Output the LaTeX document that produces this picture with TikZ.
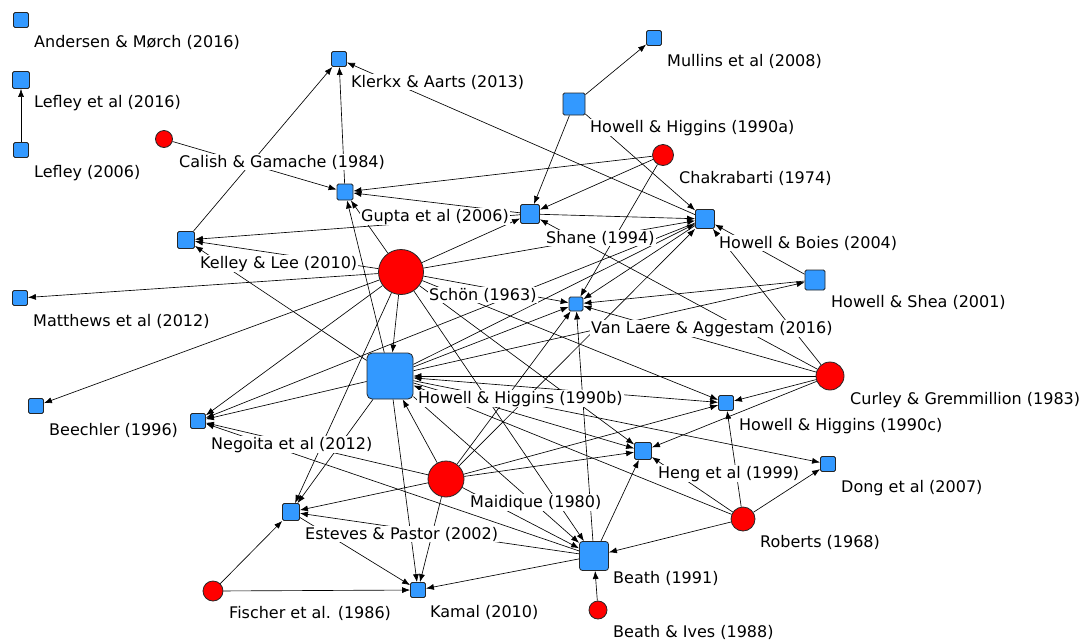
\documentclass[tikz,border=0pt]{standalone}
\usepackage{fontspec}
\setmainfont{DejaVu Sans}
\usetikzlibrary{arrows.meta}
\definecolor{sqblue}{RGB}{51,153,255}
\definecolor{ndred}{RGB}{255,0,0}
\pgfdeclarelayer{edges}
\pgfsetlayers{edges,main}
\begin{document}
\begin{tikzpicture}[x=1pt,y=-1pt,
  sq/.style={draw=black!85, fill=sqblue, rounded corners=1.5pt, minimum size=#1, inner sep=0pt, line width=0.8pt},
  rc/.style={draw=black!85, fill=ndred, circle, minimum size=#1, inner sep=0pt, line width=0.8pt},
  lab/.style={anchor=base west, fill=white, inner sep=1pt, font=\fontsize{16}{19}\selectfont},
  edg/.style={-{Latex[length=8pt,width=6pt]}, line width=0.65pt},
  edgb/.style={{Latex[length=8pt,width=6pt]}-{Latex[length=8pt,width=6pt]}, line width=0.65pt}]
\useasboundingbox (0,0) rectangle (1089,643);
% nodes
\node[sq=15pt] (and) at (21,20) {};
\node[sq=17pt] (lefA) at (21,80) {};
\node[sq=15pt] (lefB) at (21,150) {};
\node[rc=17pt] (cal) at (164,139) {};
\node[sq=15pt] (kle) at (339,59) {};
\node[sq=15pt] (mul) at (654,38) {};
\node[sq=22pt] (hha) at (574,104) {};
\node[rc=21pt] (cha) at (663,155) {};
\node[sq=16pt] (gup) at (345,192) {};
\node[sq=19pt] (sha) at (530,214) {};
\node[sq=19pt] (hbo) at (705,219) {};
\node[sq=17pt] (kel) at (186,240) {};
\node[rc=45pt] (sch) at (401,272) {};
\node[sq=15pt] (mat) at (20,298) {};
\node[sq=20pt] (hsh) at (815,280) {};
\node[sq=14pt] (vla) at (576,304) {};
\node[sq=46pt, rounded corners=5pt] (hhb) at (390,376) {};
\node[rc=28pt] (cur) at (830,376) {};
\node[sq=15pt] (bee) at (36,406) {};
\node[sq=15pt] (neg) at (198,421) {};
\node[sq=15pt] (hhc) at (726,403) {};
\node[sq=17pt] (hen) at (643,451) {};
\node[rc=36pt] (mai) at (446,479) {};
\node[sq=15pt] (don) at (828,464) {};
\node[sq=17pt] (est) at (291,512) {};
\node[rc=24pt] (rob) at (743,519) {};
\node[sq=29pt, rounded corners=3pt] (bea) at (594,556) {};
\node[rc=20pt] (fis) at (213,591) {};
\node[sq=15pt] (kam) at (418,590) {};
\node[rc=18pt] (biv) at (598,610) {};
% edges
\begin{pgfonlayer}{edges}
\foreach \a/\b in {lefB/lefA, cal/gup, gup/kle, kel/kle, hbo/kle, hha/mul, hha/sha, hha/hbo,
  cha/gup, cha/sha, cha/vla, sch/gup, sch/sha, sch/hbo, sch/kel, sch/mat, sch/bee, sch/neg,
  sch/hhb, sch/est, sch/vla, sch/hhc, sch/hen, sch/bea, sha/kel, sha/hbo, sha/gup,
  hhb/gup, hhb/kel, hhb/neg, hhb/est, hhb/kam, hhb/vla, hhb/hbo, hhb/hsh, hhb/hen, hhb/bea, hhb/don,
  hbo/neg, hbo/vla, hsh/vla, hsh/hbo, cur/hhb, cur/hhc, cur/hen, cur/hbo, cur/sha, cur/vla,
  mai/hhb, mai/vla, mai/hhc, mai/hen, mai/bea, mai/est, mai/kam, mai/neg, mai/hbo,
  rob/bea, rob/hhc, rob/don, rob/hhb, rob/hen, bea/est, bea/kam, bea/hen, bea/vla, bea/neg,
  biv/bea, fis/est, fis/kam, est/kam}
  \draw[edg] (\a) -- (\b);
\draw[edgb] (hhb) -- (hhc);
\end{pgfonlayer}
% labels
\node[lab] (land) at (33,47) {Andersen \& Mørch (2016)};
\node[lab] (llefA) at (33,107) {Lefley et al (2016)};
\node[lab] (llefB) at (33,177) {Lefley (2006)};
\node[lab] (lcal) at (178,167) {Calish \& Gamache (1984)};
\node[lab] (lkle) at (350,87) {Klerkx \& Aarts (2013)};
\node[lab] (lmul) at (666,66) {Mullins et al (2008)};
\node[lab] (lhha) at (589,132) {Howell \& Higgins (1990a)};
\node[lab] (lcha) at (678,183) {Chakrabarti (1974)};
\node[lab] (lgup) at (360,221) {Gupta et al (2006)};
\node[lab] (lsha) at (545,243) {Shane (1994)};
\node[lab] (lhbo) at (718,248) {Howell \& Boies (2004)};
\node[lab] (lkel) at (199,268) {Kelley \& Lee (2010)};
\node[lab] (lsch) at (428,300) {Schön (1963)};
\node[lab] (lmat) at (32,326) {Matthews et al (2012)};
\node[lab] (lhsh) at (830,307) {Howell \& Shea (2001)};
\node[lab] (lvla) at (590,333) {Van Laere \& Aggestam (2016)};
\node[lab] (lhhb) at (417,403) {Howell \& Higgins (1990b)};
\node[lab] (lcur) at (849,404) {Curley \& Gremmillion (1983)};
\node[lab] (lbee) at (48,435) {Beechler (1996)};
\node[lab] (lneg) at (210,449) {Negoita et al (2012)};
\node[lab] (lhhc) at (738,430) {Howell \& Higgins (1990c)};
\node[lab] (lhen) at (657,478) {Heng et al (1999)};
\node[lab] (lmai) at (469,507) {Maidique (1980)};
\node[lab] (ldon) at (840,492) {Dong et al (2007)};
\node[lab] (lest) at (304,539) {Esteves \& Pastor (2002)};
\node[lab] (lrob) at (759,547) {Roberts (1968)};
\node[lab] (lbea) at (612,583) {Beath (1991)};
\node[lab] (lfis) at (228,618) {Fischer et al. (1986)};
\node[lab] (lkam) at (429,617) {Kamal (2010)};
\node[lab] (lbiv) at (612,637) {Beath \& Ives (1988)};
\end{tikzpicture}
\end{document}
